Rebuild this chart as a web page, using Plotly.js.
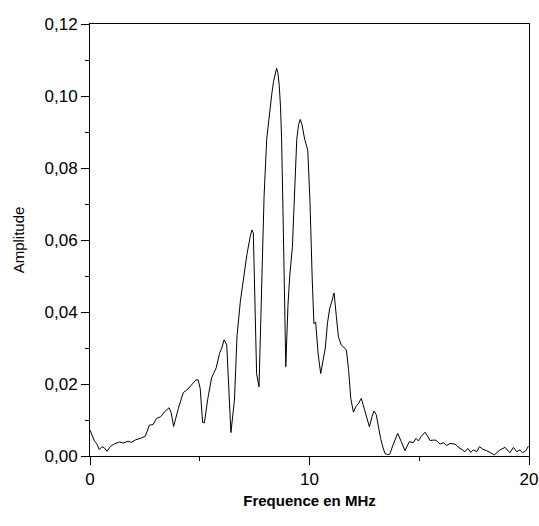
<!DOCTYPE html>
<html>
<head>
<meta charset="utf-8">
<script src="https://cdn.plot.ly/plotly-3.0.1.min.js"></script>
<style>html,body{margin:0;padding:0;background:#fff;}#chart{width:539px;height:526px;}</style>
</head>
<body>
<div id="chart"></div>
<script>
const freqMHz = [0.00,0.20,0.30,0.42,0.54,0.65,0.78,0.92,1.12,1.35,1.52,1.73,1.88,2.08,2.30,2.52,2.71,2.87,3.02,3.22,3.40,3.60,3.70,3.81,4.02,4.25,4.46,4.62,4.82,4.92,5.02,5.13,5.21,5.37,5.54,5.75,5.90,6.00,6.11,6.23,6.42,6.58,6.70,6.85,6.98,7.15,7.30,7.38,7.44,7.59,7.70,7.82,7.93,8.05,8.17,8.28,8.36,8.45,8.50,8.56,8.62,8.68,8.73,8.81,8.88,8.92,9.02,9.10,9.22,9.32,9.42,9.50,9.58,9.66,9.78,9.92,10.02,10.12,10.20,10.28,10.40,10.51,10.62,10.72,10.82,10.92,11.02,11.12,11.22,11.32,11.45,11.60,11.68,11.78,11.88,12.00,12.12,12.22,12.36,12.50,12.62,12.73,12.85,12.94,13.04,13.14,13.24,13.34,13.44,13.55,13.66,13.80,14.02,14.18,14.35,14.55,14.73,14.85,14.96,15.10,15.26,15.38,15.49,15.62,15.76,15.86,15.95,16.10,16.25,16.40,16.52,16.63,16.75,16.86,16.97,17.08,17.21,17.35,17.46,17.62,17.74,17.89,18.07,18.25,18.42,18.55,18.68,18.91,19.13,19.29,19.44,19.59,19.71,19.86,19.98];
const amplitude = [0.0072,0.0042,0.0035,0.0018,0.0026,0.0023,0.0013,0.0026,0.0034,0.0039,0.0036,0.0041,0.0038,0.0045,0.0049,0.0055,0.0086,0.0087,0.0104,0.0109,0.0123,0.0134,0.0120,0.0082,0.0131,0.0176,0.0186,0.0196,0.0211,0.0212,0.0188,0.0093,0.0092,0.0160,0.0217,0.0245,0.0285,0.0299,0.0323,0.0308,0.0065,0.0155,0.0335,0.0430,0.0488,0.0560,0.0610,0.0628,0.0620,0.0229,0.0192,0.0480,0.0720,0.0880,0.0950,0.1005,0.1040,0.1070,0.1077,0.1065,0.1030,0.0970,0.0880,0.0620,0.0340,0.0248,0.0420,0.0500,0.0580,0.0750,0.0880,0.0920,0.0935,0.0920,0.0880,0.0850,0.0710,0.0500,0.0368,0.0372,0.0280,0.0229,0.0270,0.0300,0.0370,0.0410,0.0430,0.0453,0.0390,0.0330,0.0308,0.0300,0.0295,0.0240,0.0160,0.0122,0.0138,0.0145,0.0160,0.0130,0.0100,0.0081,0.0110,0.0125,0.0115,0.0080,0.0049,0.0025,0.0007,0.0004,0.0005,0.0030,0.0063,0.0040,0.0015,0.0040,0.0037,0.0049,0.0042,0.0055,0.0066,0.0055,0.0043,0.0044,0.0044,0.0038,0.0033,0.0037,0.0029,0.0035,0.0034,0.0033,0.0026,0.0021,0.0018,0.0012,0.0021,0.0010,0.0017,0.0012,0.0026,0.0019,0.0015,0.0008,0.0003,0.0010,0.0017,0.0024,0.0009,0.0024,0.0012,0.0017,0.0009,0.0015,0.0028];
const xTitle = 'Frequence en MHz';
const yTitle = 'Amplitude';

const font = 'Liberation Sans, Arial, sans-serif';
const trace = {
  x: freqMHz, y: amplitude, type: 'scatter', mode: 'lines',
  line: {color: '#000', width: 1}, hoverinfo: 'skip'
};
const axisCommon = {
  showgrid: false, zeroline: false, showline: true, mirror: true,
  linecolor: '#000', linewidth: 1, ticks: 'outside', ticklen: 8,
  tickcolor: '#000', tickwidth: 1,
  tickfont: {family: font, size: 17, color: '#000'}
};
const layout = {
  width: 539, height: 526,
  margin: {l: 90, r: 10, t: 24, b: 70},
  paper_bgcolor: '#fff', plot_bgcolor: '#fff',
  separators: ',.',
  showlegend: false,
  xaxis: Object.assign({}, axisCommon, {
    range: [0, 20], tick0: 0, dtick: 10,
    minor: {dtick: 5, ticks: 'outside', ticklen: 4, tickcolor: '#000', tickwidth: 1},
    title: {text: '<b>' + xTitle + '</b>', font: {family: font, size: 15, color: '#000'}, standoff: 7}
  }),
  yaxis: Object.assign({}, axisCommon, {
    range: [0, 0.12], tick0: 0, dtick: 0.02, tickformat: '.2f',
    minor: {dtick: 0.01, ticks: 'outside', ticklen: 4, tickcolor: '#000', tickwidth: 1},
    title: {text: yTitle, font: {family: font, size: 15, color: '#000'}, standoff: 16}
  })
};
Plotly.newPlot('chart', [trace], layout, {displayModeBar: false, staticPlot: true});
</script>
</body>
</html>
